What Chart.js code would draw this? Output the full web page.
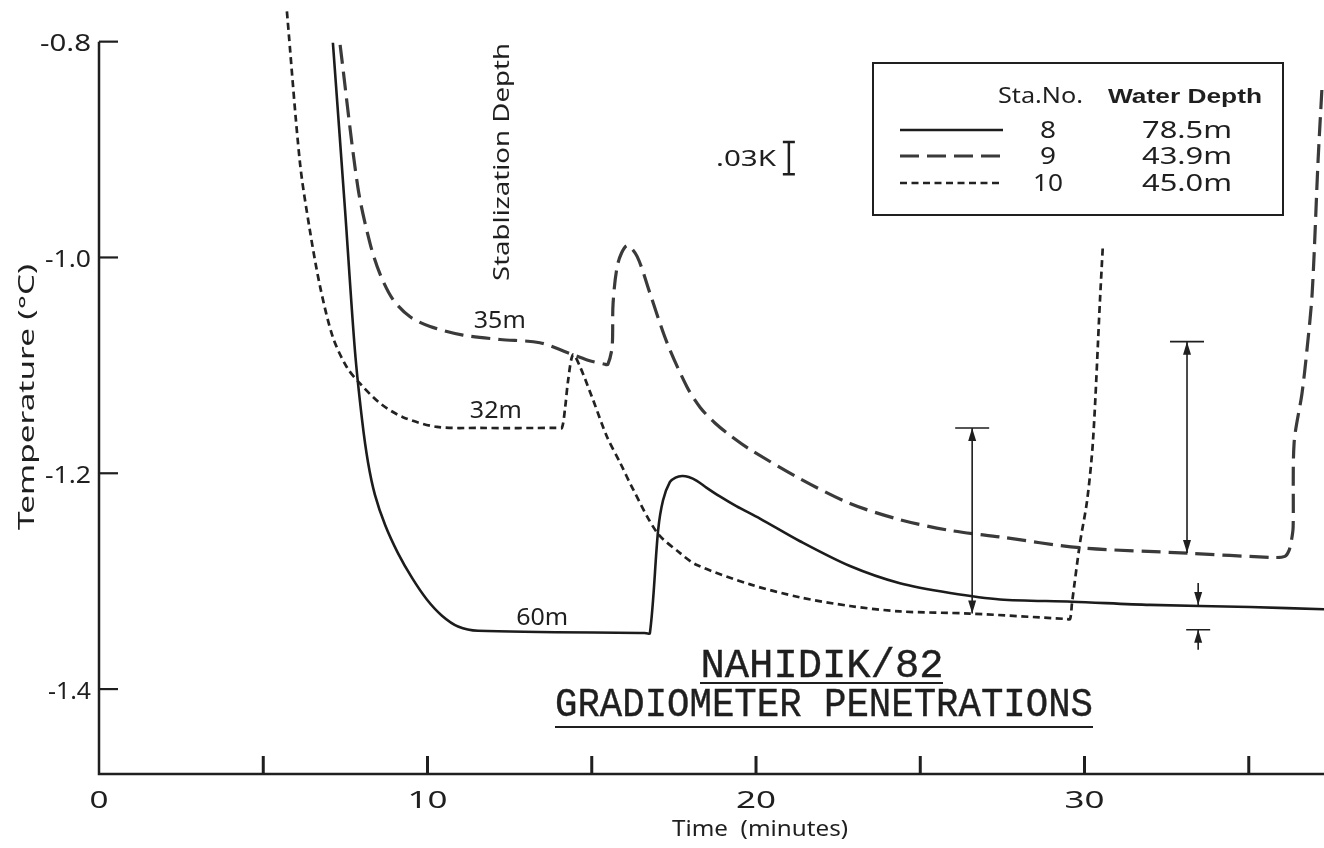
<!DOCTYPE html>
<html>
<head>
<meta charset="utf-8">
<script src="https://cdn.jsdelivr.net/npm/chart.js@4"></script>
<style>
  html, body { margin: 0; padding: 0; background: #ffffff; }
  canvas { display: block; }
</style>
</head>
<body>
<canvas id="c" width="1324" height="848"></canvas>
<script>
// Axis ticks
const timeTicks = [0, 5, 10, 15, 20, 25, 30, 35];
const timeLabels = ['0', '', '10', '', '20', '', '30', ''];
const tempTicks = [-0.8, -1.0, -1.2, -1.4];
const tempLabels = ['-0.8', '-1.0', '-1.2', '-1.4'];

// Station 8 (solid)
const st8Time = [7.12, 7.49, 7.79, 8.01, 8.19, 8.40, 8.71, 9.10, 9.53, 9.98, 10.44, 10.93, 11.54, 16.60, 16.77,
  17.02, 17.17, 17.38, 17.55, 17.75, 17.95, 18.20, 18.50, 18.90, 19.40, 20.12, 21.34, 22.86, 24.38, 25.91, 27.43, 29.62, 31.99, 35.04, 37.29];
const st8Temp = [-0.801, -0.956, -1.086, -1.151, -1.190, -1.220, -1.248, -1.274, -1.297, -1.317, -1.332, -1.342, -1.346, -1.348, -1.348,
  -1.253, -1.225, -1.208, -1.204, -1.2025, -1.2035, -1.207, -1.2135, -1.2215, -1.2305, -1.242, -1.263, -1.286, -1.302, -1.311, -1.317, -1.319, -1.322, -1.324, -1.326];

// Station 9 (long dash)
const st9Time = [7.34, 7.88, 8.25, 8.55, 8.95, 9.47, 10.08, 11.08, 12.21, 13.42, 14.25, 14.86, 15.40, 15.49,
  15.62, 15.65, 15.80, 16.07, 16.38, 16.77, 17.29, 17.90, 18.30, 18.75, 19.27, 19.82, 21.34, 22.86, 24.38, 25.91, 27.43, 29.86,
  33.12, 35.74, 36.10, 36.22, 36.30, 36.35, 36.38, 36.62, 36.77, 36.93, 37.11, 37.23];
const st9Temp = [-0.803, -0.935, -0.987, -1.015, -1.039, -1.055, -1.064, -1.072, -1.076, -1.079, -1.088, -1.095, -1.099, -1.099,
  -1.083, -1.042, -1.005, -0.989, -0.999, -1.033, -1.079, -1.120, -1.139, -1.1534, -1.1663, -1.178, -1.205, -1.228, -1.243, -1.253, -1.259, -1.269,
  -1.274, -1.278, -1.277, -1.272, -1.262, -1.250, -1.172, -1.126, -1.086, -1.033, -0.910, -0.842];

// Station 10 (short dash)
const st10Time = [5.72, 6.12, 6.42, 6.73, 7.12, 7.55, 7.95, 8.55, 9.25, 10.29, 11.60, 13.95, 14.09,
  14.19, 14.28, 14.43, 14.64, 15.04, 15.46, 15.86, 16.26, 16.99, 17.69, 18.20, 19.82, 21.34, 22.86, 24.38,
  26.51, 29.45, 29.56, 29.62, 29.86, 30.08, 30.26, 30.47, 30.56];
const st10Temp = [-0.772, -0.913, -0.975, -1.027, -1.074, -1.102, -1.117, -1.135, -1.148, -1.157, -1.158, -1.158, -1.158,
  -1.139, -1.114, -1.090, -1.101, -1.132, -1.166, -1.190, -1.215, -1.255, -1.274, -1.285, -1.303, -1.315, -1.323, -1.328,
  -1.330, -1.335, -1.335, -1.320, -1.265, -1.225, -1.169, -1.040, -0.988];

// Legend table
const stationNos = ['8', '9', '10'];
const waterDepths = ['78.5m', '43.9m', '45.0m'];

// Stabilization depth labels
const depthLabels = ['60m', '35m', '32m'];
const depthLabelTime = [13.49, 12.20, 12.08];
const depthLabelTemp = [-1.334, -1.059, -1.142];

// Range bars (time, upper temperature, lower temperature)
const barTime = [26.58, 33.12];
const barTop = [-1.158, -1.078];
const barBottom = [-1.330, -1.274];
// Offset marker for station 8
const offsetTime = 33.46;
const offsetUpper = -1.322;
const offsetLower = -1.345;

// Temperature scale bar
const scaleBarTime = 21.0;
const scaleBarTop = -0.893;
const scaleBarSpan = 0.03;

const INK = '#1f1f1f';
const SANS = '"Noto Sans", "DejaVu Sans", sans-serif';

function pts(xs, ys) { return xs.map((x, i) => ({ x: x, y: ys[i] })); }

function fitText(ctx, text, x, y, w, align) {
  const m = ctx.measureText(text).width;
  ctx.save();
  ctx.translate(x, y);
  ctx.scale(w / m, 1);
  ctx.textAlign = align;
  ctx.fillText(text, 0, 0);
  ctx.restore();
}

function arrowHead(ctx, x, yTip, up) {
  const d = up ? 1 : -1;
  ctx.beginPath();
  ctx.moveTo(x, yTip);
  ctx.lineTo(x - 4, yTip + d * 13);
  ctx.lineTo(x + 4, yTip + d * 13);
  ctx.closePath();
  ctx.fill();
}

const decor = {
  id: 'decor',
  afterDatasetsDraw(chart) {
    const ctx = chart.ctx;
    const sx = chart.scales.x, sy = chart.scales.y;
    const X = v => sx.getPixelForValue(v), Y = v => sy.getPixelForValue(v);
    const left = X(0), bottom = sy.bottom, right = sx.right;
    ctx.save();
    ctx.strokeStyle = INK;
    ctx.fillStyle = INK;
    ctx.lineCap = 'butt';

    // axes
    ctx.lineWidth = 2.5;
    ctx.beginPath();
    ctx.moveTo(left, Y(tempTicks[0]));
    ctx.lineTo(left, bottom);
    ctx.lineTo(right, bottom);
    ctx.stroke();
    // y tick marks (inward) and labels
    ctx.lineWidth = 2.2;
    ctx.textBaseline = 'middle';
    ctx.font = '24px ' + SANS;
    const yLabelW = [51, 46, 46, 43];
    tempTicks.forEach((v, i) => {
      ctx.beginPath();
      ctx.moveTo(left, Y(v));
      ctx.lineTo(left + 19, Y(v));
      ctx.stroke();
      fitText(ctx, tempLabels[i], left - 8, Y(v) + 3, yLabelW[i], 'right');
    });
    // x tick marks (upward) and labels
    ctx.lineWidth = 3;
    timeTicks.forEach((v, i) => {
      if (v !== 0) {
        ctx.beginPath();
        ctx.moveTo(X(v), bottom);
        ctx.lineTo(X(v), bottom - 18);
        ctx.stroke();
      }
      const s = timeLabels[i];
      if (s) fitText(ctx, s, X(v), bottom + 27, s.length === 1 ? 19 : 40, 'center');
    });

    // axis titles
    ctx.font = '21px ' + SANS;
    ctx.save();
    ctx.translate(28, 397);
    ctx.rotate(-Math.PI / 2);
    fitText(ctx, 'Temperature (°C)', 0, 0, 266, 'center');
    ctx.restore();
    fitText(ctx, 'Time  (minutes)', 760, 830, 176, 'center');

    // stabilization depth label
    ctx.font = '22px ' + SANS;
    ctx.save();
    ctx.translate(503, 162);
    ctx.rotate(-Math.PI / 2);
    fitText(ctx, 'Stablization Depth', 0, 0, 238, 'center');
    ctx.restore();

    // depth labels
    ctx.font = '24px ' + SANS;
    depthLabels.forEach((s, i) => {
      fitText(ctx, s, X(depthLabelTime[i]), Y(depthLabelTemp[i]), 52, 'center');
    });

    // temperature scale bar
    ctx.font = '22px ' + SANS;
    const sbx = X(scaleBarTime), sbt = Y(scaleBarTop), sbb = Y(scaleBarTop - scaleBarSpan);
    fitText(ctx, '.03K', 776, (sbt + sbb) / 2 + 2, 60, 'right');
    ctx.lineWidth = 2.5;
    ctx.beginPath();
    ctx.moveTo(sbx, sbt); ctx.lineTo(sbx, sbb);
    ctx.moveTo(sbx - 6, sbt); ctx.lineTo(sbx + 6, sbt);
    ctx.moveTo(sbx - 6, sbb); ctx.lineTo(sbx + 6, sbb);
    ctx.stroke();

    // range bars
    ctx.lineWidth = 1.6;
    barTime.forEach((t, i) => {
      const x = X(t), yt = Y(barTop[i]), yb = Y(barBottom[i]);
      ctx.beginPath();
      ctx.moveTo(x - 17, yt); ctx.lineTo(x + 17, yt);
      ctx.moveTo(x, yt); ctx.lineTo(x, yb);
      ctx.stroke();
      arrowHead(ctx, x, yt, true);
      arrowHead(ctx, x, yb, false);
    });
    // offset marker
    const ox = X(offsetTime), oy1 = Y(offsetUpper), oy2 = Y(offsetLower);
    ctx.beginPath();
    ctx.moveTo(ox, oy1 - 22); ctx.lineTo(ox, oy1);
    ctx.moveTo(ox - 12, oy2); ctx.lineTo(ox + 12, oy2);
    ctx.moveTo(ox, oy2); ctx.lineTo(ox, oy2 + 20);
    ctx.stroke();
    arrowHead(ctx, ox, oy1, false);
    arrowHead(ctx, ox, oy2, true);

    // legend table
    const lx0 = 873, ly0 = 63, lx1 = 1283, ly1 = 215;
    ctx.lineWidth = 2;
    ctx.strokeRect(lx0, ly0, lx1 - lx0, ly1 - ly0);
    ctx.font = '21px ' + SANS;
    fitText(ctx, 'Sta.No.', 998, 97, 85, 'left');
    ctx.font = 'bold 21px "Liberation Sans", sans-serif';
    fitText(ctx, 'Water Depth', 1108, 97, 154, 'left');
    ctx.font = '24px ' + SANS;
    const rowY = [131, 157, 184];
    const numW = [16, 16, 30];
    chart.data.datasets.forEach((ds, i) => {
      ctx.save();
      ctx.lineWidth = ds.borderWidth;
      ctx.setLineDash(ds.borderDash || []);
      ctx.strokeStyle = ds.borderColor;
      ctx.beginPath();
      ctx.moveTo(900, rowY[i] - 1); ctx.lineTo(1003, rowY[i] - 1);
      ctx.stroke();
      ctx.restore();
      fitText(ctx, stationNos[i], 1048, rowY[i], numW[i], 'center');
      fitText(ctx, waterDepths[i], 1187, rowY[i], 90, 'center');
    });

    // title
    ctx.font = '40px "Liberation Mono", "Courier New", monospace';
    ctx.textBaseline = 'alphabetic';
    ctx.lineWidth = 0.4;
    const title = [['NAHIDIK/82', 822, 677, 243], ['GRADIOMETER PENETRATIONS', 824, 716, 538]];
    title.forEach(([s, x, y, w]) => {
      const m = ctx.measureText(s).width;
      ctx.save();
      ctx.translate(x, y);
      ctx.scale(w / m, 1);
      ctx.textAlign = 'center';
      ctx.fillText(s, 0, 0);
      ctx.strokeText(s, 0, 0);
      ctx.restore();
    });
    ctx.lineWidth = 2.2;
    ctx.beginPath();
    ctx.moveTo(700, 683); ctx.lineTo(943, 683);
    ctx.moveTo(555, 727); ctx.lineTo(1093, 727);
    ctx.stroke();

    ctx.restore();
  }
};

const common = { showLine: true, pointRadius: 0, fill: false, tension: 0.3, borderCapStyle: 'butt', borderJoinStyle: 'round' };

new Chart(document.getElementById('c'), {
  type: 'scatter',
  data: {
    datasets: [
      Object.assign({ label: 'Sta. 8', data: pts(st8Time, st8Temp), borderColor: '#1c1c1c', borderWidth: 2.6 }, common),
      Object.assign({ label: 'Sta. 9', data: pts(st9Time, st9Temp), borderColor: '#3a3a3a', borderWidth: 3.2, borderDash: [19, 8] }, common),
      Object.assign({ label: 'Sta. 10', data: pts(st10Time, st10Temp), borderColor: '#222222', borderWidth: 2.7, borderDash: [7, 4.5] }, common)
    ]
  },
  options: {
    responsive: false,
    devicePixelRatio: 1,
    animation: false,
    layout: { padding: 0 },
    plugins: { legend: { display: false }, title: { display: false }, tooltip: { enabled: false } },
    scales: {
      x: {
        type: 'linear', min: 0, max: 37.29,
        afterBuildTicks: s => { s.ticks = timeTicks.map(v => ({ value: v })); },
        afterFit: s => { s.height = 74; },
        ticks: { display: false },
        grid: { display: false },
        border: { display: false }
      },
      y: {
        type: 'linear', min: -1.4787, max: -0.7614,
        afterBuildTicks: s => { s.ticks = tempTicks.map(v => ({ value: v })); },
        afterFit: s => { s.width = 99; },
        ticks: { display: false },
        grid: { display: false },
        border: { display: false }
      }
    }
  },
  plugins: [decor]
});
</script>
</body>
</html>
